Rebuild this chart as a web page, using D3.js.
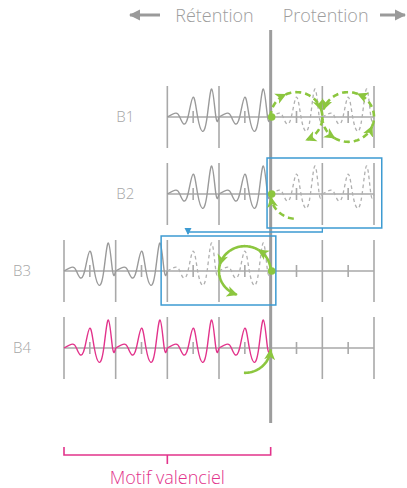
<!DOCTYPE html>
<html>
<head>
<meta charset="utf-8">
<script src="https://cdn.jsdelivr.net/npm/d3@7"></script>
<style>
  body { margin: 0; background: #fff; }
  text { font-family: "Open Sans", Lato, sans-serif; font-weight: 300; }
</style>
</head>
<body>
<svg id="chart" width="407" height="488"></svg>
<script>
// rows of the diagram
const rows = ["B1", "B2", "B3", "B4"];
// first major tick of each row (in segments, 0 = present)
const rowStart = [-2, -2, -4, -4];
const rowEnd = [2, 2, 2, 2];
// segments drawn solid / dashed (start of the segment)
const solidSegs = [[-2, -1], [-2, -1], [-4, -3], [-4, -3, -2, -1]];
const dashSegs = [[0, 1], [0, 1], [-2, -1], []];
const headers = ["Rétention", "Protention"];
const bracketLabel = "Motif valenciel";

// one wave period over a segment: position (0..1) and relative amplitude
const waveT = [0, 0.165, 0.24, 0.31, 0.40, 0.50, 0.587, 0.68, 0.77, 0.86, 0.94, 1];
const waveA = [0, 0.14, 0, -0.24, 0, 0.71, 0, -0.51, 0, 1, 0, 0];

const grey = "#a9a9a9", green = "#8cc63f", blue = "#3d9bd2", pink = "#e2338b";

const svg = d3.select("#chart");

const x = d3.scaleLinear().domain([-4, 2]).range([64, 374]);
const y = d3.scalePoint().domain(rows).range([117, 348]);
const amp = d3.scaleLinear().domain([-1, 1]).range([28, -28]);
const unit = x(1) - x(0);

const defs = svg.append("defs");
defs.append("marker")
    .attr("id", "gArrow")
    .attr("viewBox", "-10 -6 11 12")
    .attr("refX", 0).attr("refY", 0)
    .attr("markerWidth", 11).attr("markerHeight", 12)
    .attr("markerUnits", "userSpaceOnUse")
    .attr("orient", "auto")
  .append("path")
    .attr("d", "M-10,-5.5L1,0L-10,5.5L-7,0Z")
    .attr("fill", green);
defs.append("marker")
    .attr("id", "bArrow")
    .attr("viewBox", "-6 -4 7 8")
    .attr("refX", 0).attr("refY", 0)
    .attr("markerWidth", 7).attr("markerHeight", 8)
    .attr("markerUnits", "userSpaceOnUse")
    .attr("orient", "auto")
  .append("path")
    .attr("d", "M-6,-3.5L1,0L-6,3.5Z")
    .attr("fill", blue);
defs.append("marker")
    .attr("id", "hArrow")
    .attr("viewBox", "-10 -6 11 12")
    .attr("refX", 0).attr("refY", 0)
    .attr("markerWidth", 11).attr("markerHeight", 12)
    .attr("markerUnits", "userSpaceOnUse")
    .attr("orient", "auto")
  .append("path")
    .attr("d", "M-10,-5.5L1,0L-10,5.5Z")
    .attr("fill", "#9a9a9a");

// header
svg.append("text")
    .attr("x", x(0) - 17).attr("y", 22)
    .attr("text-anchor", "end")
    .attr("font-size", 18)
    .attr("fill", "#9d9d9d")
    .text(headers[0]);
svg.append("text")
    .attr("x", x(0) + 12).attr("y", 22)
    .attr("font-size", 18)
    .attr("fill", "#9d9d9d")
    .text(headers[1]);
svg.append("line")
    .attr("x1", 160).attr("y1", 15).attr("x2", 130).attr("y2", 15)
    .attr("stroke", "#9a9a9a").attr("stroke-width", 3)
    .attr("marker-end", "url(#hArrow)");
svg.append("line")
    .attr("x1", 380).attr("y1", 15).attr("x2", 405).attr("y2", 15)
    .attr("stroke", "#9a9a9a").attr("stroke-width", 3)
    .attr("marker-end", "url(#hArrow)");

const waveLine = d3.line()
    .x(d => d[0])
    .y(d => d[1])
    .curve(d3.curveNatural);

function wavePts(seg, cy) {
  return waveT.map((t, i) => [x(seg + t), cy + amp(waveA[i])]);
}

rows.forEach((r, i) => {
  const cy = y(r);
  const g = svg.append("g");

  // axis line
  g.append("line")
      .attr("x1", x(rowStart[i])).attr("x2", x(rowEnd[i]))
      .attr("y1", cy).attr("y2", cy)
      .attr("stroke", grey).attr("stroke-width", 1.6);

  const major = d3.range(rowStart[i], rowEnd[i] + 1);
  const minor = d3.range(rowStart[i] + 0.5, rowEnd[i], 1);
  g.selectAll(".major").data(major).join("line")
      .attr("x1", d => x(d)).attr("x2", d => x(d))
      .attr("y1", cy - 31).attr("y2", cy + 31)
      .attr("stroke", grey).attr("stroke-width", 1.6);
  g.selectAll(".minor").data(minor).join("line")
      .attr("x1", d => x(d)).attr("x2", d => x(d))
      .attr("y1", cy - 6).attr("y2", cy + 6)
      .attr("stroke", grey).attr("stroke-width", 1.6);

  // waves
  g.selectAll(".solid").data(solidSegs[i]).join("path")
      .attr("d", d => waveLine(wavePts(d, cy)))
      .attr("fill", "none")
      .attr("stroke", r === "B4" ? pink : "#9a9a9a")
      .attr("stroke-width", 1.4);
  g.selectAll(".dash").data(dashSegs[i]).join("path")
      .attr("d", d => waveLine(wavePts(d, cy)))
      .attr("fill", "none")
      .attr("stroke", "#b0b0b0")
      .attr("stroke-width", 1.3)
      .attr("stroke-dasharray", "3.5,3");

  // label
  svg.append("text")
      .attr("x", x(rowStart[i]) - 51).attr("y", cy + 5)
      .attr("font-size", 15)
      .attr("fill", "#a6a6a6")
      .text(r);
});

// present axis
svg.append("line")
    .attr("x1", x(0)).attr("x2", x(0))
    .attr("y1", 30).attr("y2", 423)
    .attr("stroke", "#9d9d9d").attr("stroke-width", 3);

// blue boxes and link
const yB2 = y("B2"), yB3 = y("B3");
svg.append("rect")
    .attr("x", x(-0.07)).attr("y", yB2 - 36)
    .attr("width", x(2.15) - x(-0.07)).attr("height", 70)
    .attr("fill", "none").attr("stroke", blue).attr("stroke-width", 1.5);
svg.append("rect")
    .attr("x", x(-2.12)).attr("y", yB3 - 35)
    .attr("width", x(0.1) - x(-2.12)).attr("height", 69)
    .attr("fill", "none").attr("stroke", blue).attr("stroke-width", 1.5);
svg.append("path")
    .attr("d", `M${x(1)},${yB2 + 34}V${yB2 + 38}H${x(-1.6)}V${yB3 - 37}`)
    .attr("fill", "none").attr("stroke", blue).attr("stroke-width", 1.3)
    .attr("marker-end", "url(#bArrow)");

// green flow arcs (angles in degrees, screen orientation)
function arcPts(cx, cy, rx, ry, a0, a1) {
  const n = Math.max(2, Math.ceil(Math.abs(a1 - a0) / 3));
  return d3.range(n + 1).map(k => {
    const a = (a0 + (a1 - a0) * k / n) * Math.PI / 180;
    return [cx + rx * Math.cos(a), cy + ry * Math.sin(a)];
  });
}
const arcLine = d3.line();
function greenArc(c, cy, r, spans, dashed) {
  spans.forEach(s => {
    svg.append("path")
        .attr("d", arcLine(arcPts(x(c), cy, r, r - 1, s[0], s[1])))
        .attr("fill", "none")
        .attr("stroke", green)
        .attr("stroke-width", 2.6)
        .attr("stroke-dasharray", dashed ? "6,4" : null)
        .attr("marker-end", "url(#gArrow)");
  });
}
const yB1 = y("B1"), yB4 = y("B4");
const half = unit / 2;
greenArc(0.5, yB1, half, [[180, 245], [245, 343], [343, 428]], true);
greenArc(1.5, yB1, half, [[180, 122], [122, 22], [22, -68], [-68, -162]], true);
greenArc(0.5, yB2, half, [[96, 172]], true);
greenArc(-0.5, yB3, half, [[360, 302], [302, 195], [195, 108]], false);
greenArc(-0.5, yB4, half, [[92, 4]], false);

svg.selectAll(".dot").data([yB1, yB2, yB3]).join("circle")
    .attr("cx", x(0) + 1).attr("cy", d => d)
    .attr("r", 3.8)
    .attr("fill", green);

// bracket
const by = 455;
svg.append("path")
    .attr("d", `M${x(-4)},${by - 8}V${by}H${x(0)}V${by - 8}M${x(-2)},${by}V${by + 9}`)
    .attr("fill", "none").attr("stroke", pink).attr("stroke-width", 1.6);
svg.append("text")
    .attr("x", x(-2)).attr("y", 484)
    .attr("text-anchor", "middle")
    .attr("font-size", 18)
    .attr("fill", pink)
    .text(bracketLabel);
</script>
</body>
</html>
